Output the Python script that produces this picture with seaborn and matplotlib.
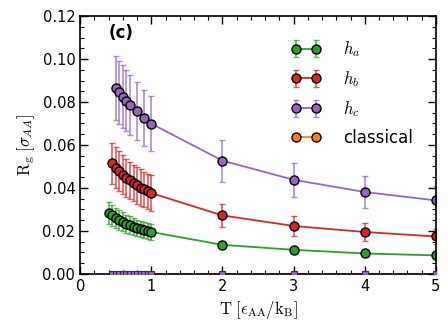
import numpy as np
import matplotlib
matplotlib.use("Agg")
import matplotlib.pyplot as plt
from matplotlib.ticker import MultipleLocator, FormatStrFormatter
import seaborn as sns

# temperatures
T_a = [0.40, 0.45, 0.50, 0.55, 0.60, 0.65, 0.70, 0.75, 0.80, 0.85, 0.90, 0.95, 1.00, 2, 3, 4, 5]
T_b = [0.45, 0.50, 0.55, 0.60, 0.65, 0.70, 0.75, 0.80, 0.85, 0.90, 0.95, 1.00, 2, 3, 4, 5]
T_c = [0.50, 0.55, 0.60, 0.65, 0.70, 0.80, 0.90, 1.00, 2, 3, 4, 5]
T_cl = [0.45, 0.50, 0.55, 0.60, 0.65, 0.70, 0.75, 0.80, 0.85, 0.90, 0.95, 1.00, 2, 3, 4, 5]

# radius of gyration and errors
rg_a = [0.0284, 0.0272, 0.0261, 0.0251, 0.0242, 0.0234, 0.0227, 0.0220, 0.0214,
        0.0209, 0.0204, 0.0199, 0.0195, 0.0135, 0.0112, 0.0095, 0.0086]
err_a = [0.0050, 0.0048, 0.0046, 0.0045, 0.0044, 0.0042, 0.0041, 0.0040, 0.0039,
         0.0038, 0.0037, 0.0036, 0.0035, 0.0020, 0.0018, 0.0015, 0.0015]
rg_b = [0.0515, 0.0495, 0.0478, 0.0462, 0.0448, 0.0435, 0.0423, 0.0412, 0.0402,
        0.0393, 0.0384, 0.0376, 0.0272, 0.0223, 0.0195, 0.0174]
err_b = [0.0096, 0.0094, 0.0092, 0.0090, 0.0089, 0.0087, 0.0086, 0.0085, 0.0084,
         0.0083, 0.0082, 0.0082, 0.0053, 0.0045, 0.0040, 0.0035]
rg_c = [0.0865, 0.0845, 0.0825, 0.0806, 0.0788, 0.0757, 0.0727, 0.0699,
        0.0527, 0.0438, 0.0381, 0.0342]
err_c = [0.0150, 0.0148, 0.0145, 0.0142, 0.0140, 0.0135, 0.0131, 0.0128,
         0.0098, 0.0080, 0.0075, 0.0065]
rg_cl = [0.0] * len(T_cl)

plt.rcdefaults()
pal = sns.color_palette("tab10")
green, red, purple, orange = pal[2], pal[3], pal[4], pal[1]

plt.rcParams['font.family'] = ['DejaVu Sans']
plt.rcParams['mathtext.fontset'] = 'cm'
fig = plt.figure(figsize=(4.48, 3.28), dpi=100)
ax = fig.add_axes([0.179, 0.165, 0.794, 0.786])

series = [
    (T_a, rg_a, err_a, green, r'$h_a$'),
    (T_b, rg_b, err_b, red, r'$h_b$'),
    (T_c, rg_c, err_c, purple, r'$h_c$'),
]
style = dict(lw=1.3, marker='o', ms=6.5, mec='black', mew=1.0)
handles = []
for T, rg, err, col, lab in series:
    h = ax.errorbar(T, rg, yerr=err, color=col, ecolor=(*col, 0.75), mfc=col,
                    elinewidth=1.2, capsize=2, capthick=1.2, label=lab, **style)
    handles.append(h)

# classical: lies on the axis, markers hidden under the purple squares
ax.plot(T_cl, rg_cl, color=orange, lw=1.3, zorder=1)
h_cl, = ax.plot([], [], color=orange, mfc=orange, label='classical', **style)
handles.append(h_cl)
ax.plot(T_cl, rg_cl, ls='none', marker='s', ms=4, mfc=purple, mec='#3a2a50',
        mew=0.8, zorder=3)

ax.set_xlim(0, 5)
ax.set_ylim(0, 0.12)
ax.xaxis.set_major_locator(MultipleLocator(1))
ax.xaxis.set_minor_locator(MultipleLocator(0.2))
ax.yaxis.set_major_locator(MultipleLocator(0.02))
ax.yaxis.set_minor_locator(MultipleLocator(0.005))
ax.yaxis.set_major_formatter(FormatStrFormatter('%.2f'))
ax.tick_params(which='both', direction='in', top=True, right=True,
               color='black', labelsize=10.5)
ax.tick_params(which='major', length=6, width=1)
ax.tick_params(which='minor', length=3, width=0.8)
for s in ax.spines.values():
    s.set_linewidth(1.2)
    s.set_color('black')

ax.set_xlabel(r'$\mathrm{T}\ [\epsilon_{\rm AA}/\mathrm{k_B}]$', fontsize=12)
ax.set_ylabel(r'$\mathrm{R_g}\ [\sigma_{AA}]$', fontsize=12)
ax.text(0.08, 0.935, '(c)', transform=ax.transAxes, fontsize=12,
        fontweight='bold', va='center')

ax.legend(handles=handles, loc='upper right', frameon=False, numpoints=2,
          fontsize=12, handlelength=1.8, handletextpad=1.3,
          borderaxespad=1.0, labelspacing=0.6)

fig.savefig('out.png', dpi=100)
